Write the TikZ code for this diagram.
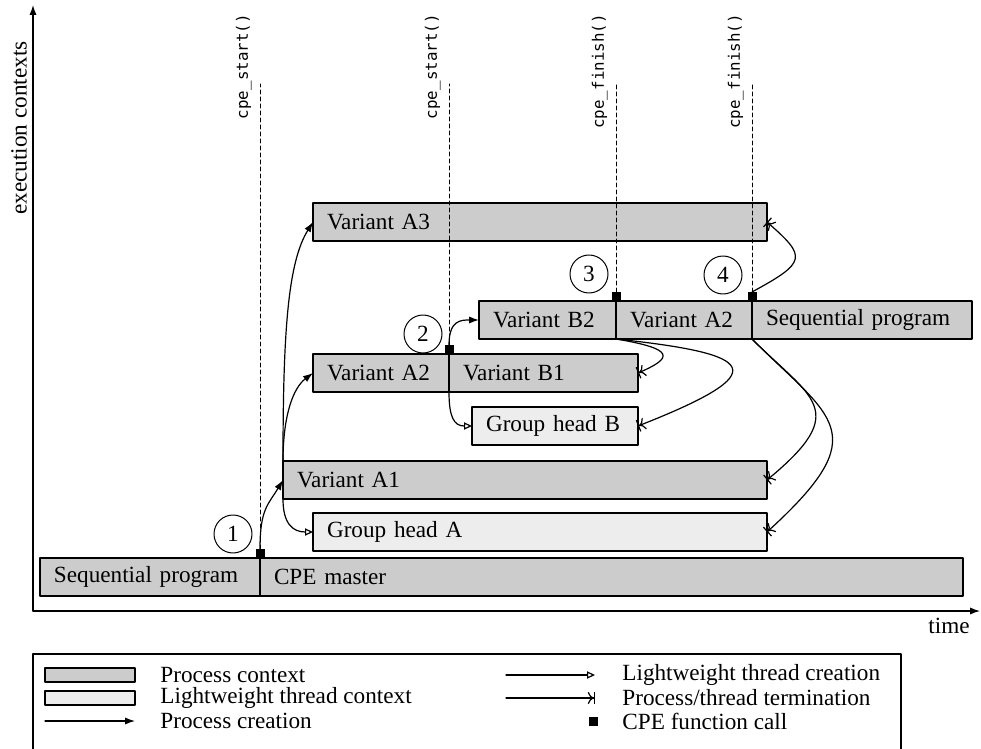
\documentclass[tikz,border=0pt]{standalone}
\usepackage{fontspec}
\setmainfont{Liberation Serif}
\setmonofont{DejaVu Sans Mono}
\usetikzlibrary{arrows.meta,positioning}
\definecolor{procfill}{gray}{0.8}
\definecolor{lwtfill}{gray}{0.93}
\begin{document}
\begin{tikzpicture}[x=0.5pt,y=-0.5pt,line cap=round,line join=round,>={Latex[length=5pt,width=3.6pt]},
		font=\fontsize{11.6}{13}\selectfont,
		ctx/.style={draw,line width=0.7pt,fill=procfill,anchor=north west,minimum height=19pt,inner xsep=7pt,inner ysep=0pt,outer sep=0pt,text width=#1,align=left},
		lwt/.style={ctx=#1,fill=lwtfill},
		call/.style={fill=black,minimum size=4.5pt,inner sep=0pt,outer sep=0pt,anchor=south},
		num/.style={draw,circle,line width=0.5pt,minimum size=19pt,inner sep=0pt},
		fn/.style={rotate=90,anchor=south east,inner sep=0pt,font=\ttfamily\fontsize{7.9}{9}\selectfont},
		spawn/.style={-{Triangle[open,length=4pt,width=3.6pt]}},
		term/.style={-{To[length=3pt,width=6pt]Bar[width=6pt]}},
		sync/.style={line width=0.5pt,dash pattern=on 2pt off 1.5pt}]
	\useasboundingbox (0,0) rectangle (981,749);
	\draw[->,line width=0.6pt] (33,611) -- (33,5);
	\draw[->,line width=0.6pt] (33,611) -- (980,611);
	\node[rotate=90] (ylab) at (19,128) {execution contexts};
	\node (xlab) at (949,626) {time};

	\node[ctx=96pt] (seq) at (40,558) {Sequential program};
	\node[ctx=337.5pt] (master) at (seq.north east) {CPE master};
	\node[lwt=213pt] (gha) at (313,513) {Group head A};
	\node[ctx=228pt] (va1) at (283,461) {Variant A1};
	\node[lwt=69pt] (ghb) at (472,407) {Group head B};
	\node[ctx=54pt] (va2) at (313,354) {Variant A2};
	\node[ctx=80.5pt] (vb1) at (va2.north east) {Variant B1};
	\node[ctx=54.5pt] (vb2) at (479,301) {Variant B2};
	\node[ctx=54pt] (va2b) at (vb2.north east) {Variant A2};
	\node[ctx=96pt] (seqb) at (va2b.north east) {Sequential program};
	\node[ctx=213pt] (va3) at (313,203) {Variant A3};

	\node[call] (c1) at (seq.north east) {};
	\node[call] (c2) at (va2.north east) {};
	\node[call] (c3) at (vb2.north east) {};
	\node[call] (c4) at (va2b.north east) {};
	\coordinate (top) at (0,84);
	\foreach \c in {c1,c2,c3,c4}
		\draw[sync] (\c.north) -- (\c |- top);
	\node[fn] (f1) at (252,14) {cpe\_start()};
	\node[fn] (f2) at (441,14) {cpe\_start()};
	\node[fn] (f3) at (608,14) {cpe\_finish()};
	\node[fn] (f4) at (744,14) {cpe\_finish()};

	\node[num] (n1) at (233,534) {1};
	\node[num] (n2) at (423,334) {2};
	\node[num] (n3) at (589,274) {3};
	\node[num] (n4) at (723,275) {4};

	\draw[->,line width=0.6pt] (c1.north) .. controls +(0,-40) and +(-15,25) .. (va1.west);
	\draw[->,line width=0.6pt] (va1.north west) .. controls +(0,-45) and +(-20,15) .. (va2.west);
	\draw[->,line width=0.6pt] (va1.north west) .. controls +(0,-130) and +(-25,40) .. (va3.west);
	\draw[->,line width=0.6pt] (c2.north) .. controls +(0,-25) and +(-18,0) .. (vb2.west);
	\draw[spawn,line width=0.6pt] (va1.south west) .. controls +(0,25) and +(-20,0) .. (gha.west);
	\draw[spawn,line width=0.6pt] (vb1.south west) .. controls +(0,25) and +(-18,0) .. (ghb.west);
	\draw[term,line width=0.6pt] (va2b.south west) .. controls +(60,10) and +(35,-15) .. (vb1.east);
	\draw[term,line width=0.6pt] (va2b.south west) .. controls +(140,15) and +(140,-55) .. (ghb.east);
	\draw[term,line width=0.6pt] (c4.north) .. controls +(55,-30) and +(40,35) .. (va3.east);
	\draw[term,line width=0.6pt] (va2b.south east) .. controls +(60,60) and +(85,-70) .. (va1.east);
	\draw[term,line width=0.6pt] (va2b.south east) .. controls +(80,80) and +(110,-100) .. (gha.east);

	\draw[line width=0.6pt] (33,749) -- (33,654) -- (901,654) -- (901,749);
	\node[draw,line width=0.6pt,fill=procfill,minimum width=45pt,minimum height=7pt,inner sep=0pt] (kproc) at (90,675) {};
	\node[draw,line width=0.6pt,fill=lwtfill,minimum width=45pt,minimum height=7pt,inner sep=0pt] (klwt) at (90,698) {};
	\draw[->,line width=0.6pt] (45,721) -- (135,721);
	\draw[spawn,line width=0.6pt] (506,675) -- (595,675);
	\draw[term,line width=0.6pt] (506,698) -- (595,698);
	\node[call,anchor=center] (kcall) at (593,721) {};
	\node[anchor=west,inner sep=0pt] (tproc) at (160,675) {Process context};
	\node[anchor=west,inner sep=0pt] (tlwt) at (160,698) {Lightweight thread context};
	\node[anchor=west,inner sep=0pt] (tpc) at (160,721) {Process creation};
	\node[anchor=west,inner sep=0pt] (tlc) at (622,675) {Lightweight thread creation};
	\node[anchor=west,inner sep=0pt] (tterm) at (622,698) {Process/thread termination};
	\node[anchor=west,inner sep=0pt] (tcall) at (622,721) {CPE function call};
\end{tikzpicture}
\end{document}
